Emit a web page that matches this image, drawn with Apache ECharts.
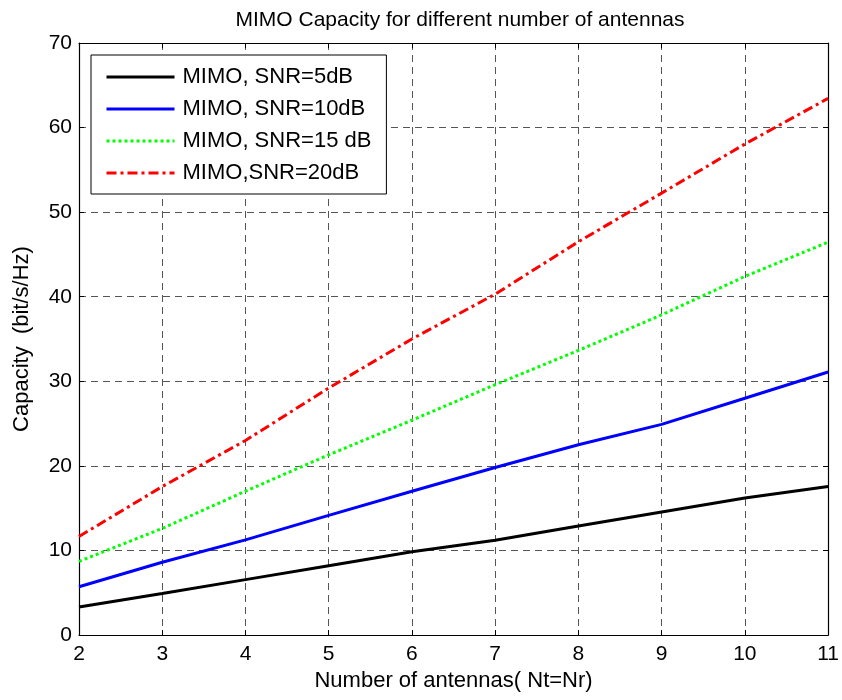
<!DOCTYPE html>
<html>
<head>
<meta charset="utf-8">
<script src="https://cdn.jsdelivr.net/npm/echarts@6/dist/echarts.min.js"></script>
<style>
  html, body { margin: 0; padding: 0; background: #fff; }
  #chart { width: 842px; height: 700px; }
</style>
</head>
<body>
<div id="chart"></div>
<script>
// Number of antennas (Nt = Nr)
const antennas = [2, 3, 4, 5, 6, 7, 8, 9, 10, 11];

// Capacity (bit/s/Hz) for each SNR
const snr5dB  = [3.3, 4.9, 6.55, 8.2, 9.85, 11.2, 12.9, 14.55, 16.2, 17.55];
const snr10dB = [5.7, 8.6, 11.25, 14.15, 17.0, 19.8, 22.5, 24.9, 28.0, 31.1];
const snr15dB = [8.7, 12.6, 17.0, 21.3, 25.4, 29.6, 33.65, 37.85, 42.4, 46.45];
const snr20dB = [11.65, 17.55, 23.0, 29.2, 35.0, 40.3, 46.5, 52.25, 58.05, 63.45];

const seriesNames = ['MIMO, SNR=5dB', 'MIMO, SNR=10dB', 'MIMO, SNR=15 dB', 'MIMO,SNR=20dB'];

const xTicks = [2, 3, 4, 5, 6, 7, 8, 9, 10, 11];
const yTicks = [0, 10, 20, 30, 40, 50, 60, 70];

const FONT = 'Liberation Sans, Arial, Helvetica, sans-serif';

function pairs(values) {
  return antennas.map((n, i) => [n, values[i]]);
}

const gridLine = { show: true, lineStyle: { color: '#555', width: 1, type: [7, 5] } };
const frame = { show: true, onZero: false, lineStyle: { color: '#000', width: 1.2 } };
const innerTick = { show: true, inside: true, length: 5, lineStyle: { color: '#000', width: 1 } };

const chart = echarts.init(document.getElementById('chart'), null, { renderer: 'canvas' });

chart.setOption({
  animation: false,
  backgroundColor: '#fff',
  textStyle: { fontFamily: FONT },
  title: {
    text: 'MIMO Capacity for different number of antennas',
    left: 455, top: 5, textAlign: 'center',
    textStyle: { fontFamily: FONT, fontSize: 21, fontWeight: 'normal', color: '#000' }
  },
  grid: { left: 79, right: 13, top: 43, bottom: 65 },
  legend: {
    orient: 'vertical',
    left: 91, top: 55,
    padding: [11, 15, 10, 14],
    itemWidth: 68, itemHeight: 22, itemGap: 10,
    backgroundColor: '#fff',
    borderColor: '#000', borderWidth: 1,
    borderRadius: 0,
    itemStyle: { opacity: 0 },
    lineStyle: { width: 3 },
    textStyle: { fontFamily: FONT, fontSize: 22, color: '#000', padding: [0, 0, 0, 3] },
    data: seriesNames
  },
  xAxis: [{
    type: 'value', min: xTicks[0], max: xTicks[xTicks.length - 1], interval: 1,
    name: 'Number of antennas( Nt=Nr)', nameLocation: 'middle', nameGap: 34,
    nameTextStyle: { fontFamily: FONT, fontSize: 22, color: '#000' },
    axisLine: frame, axisTick: innerTick,
    axisLabel: { color: '#000', fontSize: 21, fontFamily: FONT, margin: 9 },
    splitLine: gridLine
  }, {
    type: 'value', position: 'top', min: xTicks[0], max: xTicks[xTicks.length - 1], interval: 1,
    axisLine: frame, axisTick: innerTick, axisLabel: { show: false }, splitLine: { show: false }
  }],
  yAxis: [{
    type: 'value', min: yTicks[0], max: yTicks[yTicks.length - 1], interval: 10,
    name: 'Capacity  (bit/s/Hz)', nameLocation: 'middle', nameGap: 46, nameRotate: 90,
    nameTextStyle: { fontFamily: FONT, fontSize: 22, color: '#000' },
    axisLine: frame, axisTick: innerTick,
    axisLabel: { color: '#000', fontSize: 21, fontFamily: FONT, margin: 7 },
    splitLine: gridLine
  }, {
    type: 'value', position: 'right', min: yTicks[0], max: yTicks[yTicks.length - 1], interval: 10,
    axisLine: frame, axisTick: innerTick, axisLabel: { show: false }, splitLine: { show: false }
  }],
  series: [
    { name: seriesNames[0], type: 'line', data: pairs(snr5dB), symbol: 'none', color: '#000',
      lineStyle: { color: '#000', width: 3, type: 'solid' } },
    { name: seriesNames[1], type: 'line', data: pairs(snr10dB), symbol: 'none', color: '#0000ff',
      lineStyle: { color: '#0000ff', width: 3, type: 'solid' } },
    { name: seriesNames[2], type: 'line', data: pairs(snr15dB), symbol: 'none', color: '#00ff00',
      lineStyle: { color: '#00ff00', width: 3, type: [3, 3] } },
    { name: seriesNames[3], type: 'line', data: pairs(snr20dB), symbol: 'none', color: '#ff0000',
      lineStyle: { color: '#ff0000', width: 3, type: [10, 4, 3, 4] } }
  ]
});
</script>
</body>
</html>
